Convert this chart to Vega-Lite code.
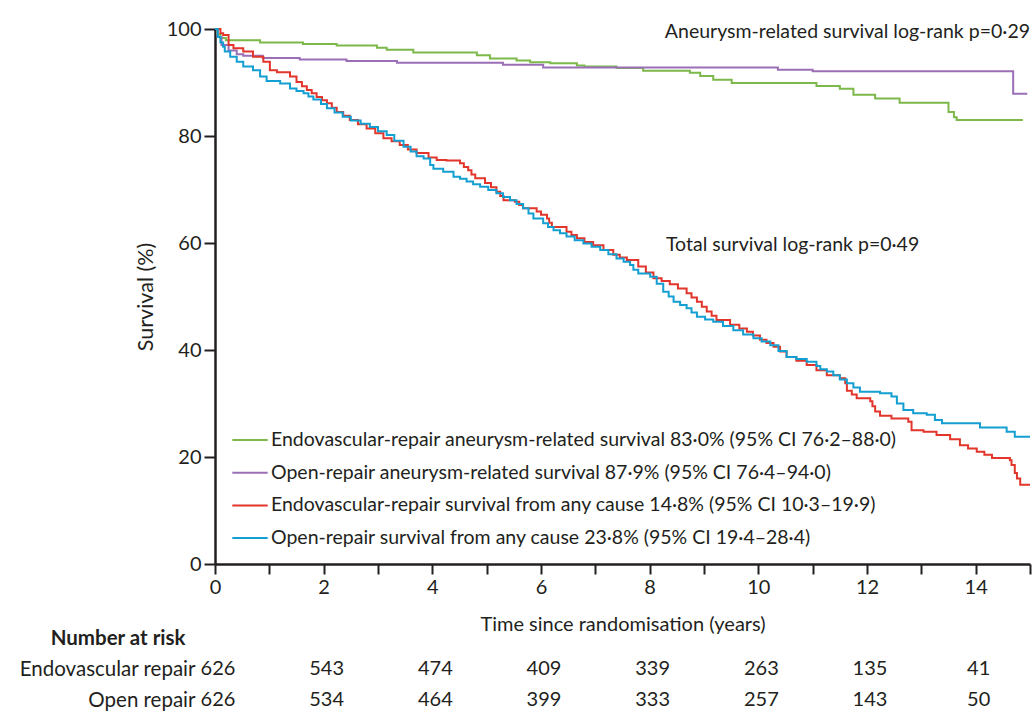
{
  "$schema": "https://vega.github.io/schema/vega-lite/v6.json",
  "background": "white",
  "padding": {"left": 18, "top": 19, "right": 0, "bottom": 0},
  "spacing": 74,
  "bounds": "flush",
  "datasets": {
    "curves": [
      {"c":"Endovascular-repair aneurysm-related survival 83·0% (95% CI 76·2–88·0)","t":0,"s":100},
      {"c":"Endovascular-repair aneurysm-related survival 83·0% (95% CI 76·2–88·0)","t":0.04,"s":99.0},
      {"c":"Endovascular-repair aneurysm-related survival 83·0% (95% CI 76·2–88·0)","t":0.1,"s":98.3},
      {"c":"Endovascular-repair aneurysm-related survival 83·0% (95% CI 76·2–88·0)","t":0.2,"s":97.9},
      {"c":"Endovascular-repair aneurysm-related survival 83·0% (95% CI 76·2–88·0)","t":0.83,"s":97.5},
      {"c":"Endovascular-repair aneurysm-related survival 83·0% (95% CI 76·2–88·0)","t":1.62,"s":97.2},
      {"c":"Endovascular-repair aneurysm-related survival 83·0% (95% CI 76·2–88·0)","t":2.24,"s":96.9},
      {"c":"Endovascular-repair aneurysm-related survival 83·0% (95% CI 76·2–88·0)","t":2.98,"s":96.5},
      {"c":"Endovascular-repair aneurysm-related survival 83·0% (95% CI 76·2–88·0)","t":3.16,"s":96.1},
      {"c":"Endovascular-repair aneurysm-related survival 83·0% (95% CI 76·2–88·0)","t":3.65,"s":95.6},
      {"c":"Endovascular-repair aneurysm-related survival 83·0% (95% CI 76·2–88·0)","t":4.82,"s":95.1},
      {"c":"Endovascular-repair aneurysm-related survival 83·0% (95% CI 76·2–88·0)","t":5.06,"s":94.5},
      {"c":"Endovascular-repair aneurysm-related survival 83·0% (95% CI 76·2–88·0)","t":5.55,"s":94.1},
      {"c":"Endovascular-repair aneurysm-related survival 83·0% (95% CI 76·2–88·0)","t":5.8,"s":93.8},
      {"c":"Endovascular-repair aneurysm-related survival 83·0% (95% CI 76·2–88·0)","t":6.17,"s":93.6},
      {"c":"Endovascular-repair aneurysm-related survival 83·0% (95% CI 76·2–88·0)","t":6.66,"s":93.2},
      {"c":"Endovascular-repair aneurysm-related survival 83·0% (95% CI 76·2–88·0)","t":6.8,"s":93.0},
      {"c":"Endovascular-repair aneurysm-related survival 83·0% (95% CI 76·2–88·0)","t":7.39,"s":92.7},
      {"c":"Endovascular-repair aneurysm-related survival 83·0% (95% CI 76·2–88·0)","t":7.88,"s":92.2},
      {"c":"Endovascular-repair aneurysm-related survival 83·0% (95% CI 76·2–88·0)","t":8.74,"s":91.8},
      {"c":"Endovascular-repair aneurysm-related survival 83·0% (95% CI 76·2–88·0)","t":8.93,"s":91.2},
      {"c":"Endovascular-repair aneurysm-related survival 83·0% (95% CI 76·2–88·0)","t":9.17,"s":90.5},
      {"c":"Endovascular-repair aneurysm-related survival 83·0% (95% CI 76·2–88·0)","t":9.51,"s":89.9},
      {"c":"Endovascular-repair aneurysm-related survival 83·0% (95% CI 76·2–88·0)","t":11.07,"s":89.35},
      {"c":"Endovascular-repair aneurysm-related survival 83·0% (95% CI 76·2–88·0)","t":11.5,"s":88.85},
      {"c":"Endovascular-repair aneurysm-related survival 83·0% (95% CI 76·2–88·0)","t":11.75,"s":87.7},
      {"c":"Endovascular-repair aneurysm-related survival 83·0% (95% CI 76·2–88·0)","t":12.15,"s":87.0},
      {"c":"Endovascular-repair aneurysm-related survival 83·0% (95% CI 76·2–88·0)","t":12.6,"s":86.2},
      {"c":"Endovascular-repair aneurysm-related survival 83·0% (95% CI 76·2–88·0)","t":13.5,"s":84.5},
      {"c":"Endovascular-repair aneurysm-related survival 83·0% (95% CI 76·2–88·0)","t":13.6,"s":83.5},
      {"c":"Endovascular-repair aneurysm-related survival 83·0% (95% CI 76·2–88·0)","t":13.65,"s":83.0},
      {"c":"Endovascular-repair aneurysm-related survival 83·0% (95% CI 76·2–88·0)","t":14.87,"s":83.0},
      {"c":"Open-repair aneurysm-related survival 87·9% (95% CI 76·4–94·0)","t":0,"s":100},
      {"c":"Open-repair aneurysm-related survival 87·9% (95% CI 76·4–94·0)","t":0.05,"s":98.5},
      {"c":"Open-repair aneurysm-related survival 87·9% (95% CI 76·4–94·0)","t":0.12,"s":97.0},
      {"c":"Open-repair aneurysm-related survival 87·9% (95% CI 76·4–94·0)","t":0.25,"s":96.0},
      {"c":"Open-repair aneurysm-related survival 87·9% (95% CI 76·4–94·0)","t":0.4,"s":95.3},
      {"c":"Open-repair aneurysm-related survival 87·9% (95% CI 76·4–94·0)","t":0.52,"s":95.0},
      {"c":"Open-repair aneurysm-related survival 87·9% (95% CI 76·4–94·0)","t":0.88,"s":94.6},
      {"c":"Open-repair aneurysm-related survival 87·9% (95% CI 76·4–94·0)","t":1.56,"s":94.3},
      {"c":"Open-repair aneurysm-related survival 87·9% (95% CI 76·4–94·0)","t":2.42,"s":94.0},
      {"c":"Open-repair aneurysm-related survival 87·9% (95% CI 76·4–94·0)","t":3.35,"s":93.7},
      {"c":"Open-repair aneurysm-related survival 87·9% (95% CI 76·4–94·0)","t":5.3,"s":93.3},
      {"c":"Open-repair aneurysm-related survival 87·9% (95% CI 76·4–94·0)","t":6.04,"s":92.8},
      {"c":"Open-repair aneurysm-related survival 87·9% (95% CI 76·4–94·0)","t":10.36,"s":92.4},
      {"c":"Open-repair aneurysm-related survival 87·9% (95% CI 76·4–94·0)","t":11.0,"s":92.1},
      {"c":"Open-repair aneurysm-related survival 87·9% (95% CI 76·4–94·0)","t":14.69,"s":87.9},
      {"c":"Open-repair aneurysm-related survival 87·9% (95% CI 76·4–94·0)","t":14.95,"s":87.9},
      {"c":"Endovascular-repair survival from any cause 14·8% (95% CI 10·3–19·9)","t":0,"s":100},
      {"c":"Endovascular-repair survival from any cause 14·8% (95% CI 10·3–19·9)","t":0.1,"s":99.2},
      {"c":"Endovascular-repair survival from any cause 14·8% (95% CI 10·3–19·9)","t":0.15,"s":98.9},
      {"c":"Endovascular-repair survival from any cause 14·8% (95% CI 10·3–19·9)","t":0.25,"s":97.0},
      {"c":"Endovascular-repair survival from any cause 14·8% (95% CI 10·3–19·9)","t":0.34,"s":96.4},
      {"c":"Endovascular-repair survival from any cause 14·8% (95% CI 10·3–19·9)","t":0.52,"s":95.8},
      {"c":"Endovascular-repair survival from any cause 14·8% (95% CI 10·3–19·9)","t":0.7,"s":94.8},
      {"c":"Endovascular-repair survival from any cause 14·8% (95% CI 10·3–19·9)","t":0.89,"s":93.9},
      {"c":"Endovascular-repair survival from any cause 14·8% (95% CI 10·3–19·9)","t":1.01,"s":92.3},
      {"c":"Endovascular-repair survival from any cause 14·8% (95% CI 10·3–19·9)","t":1.14,"s":91.9},
      {"c":"Endovascular-repair survival from any cause 14·8% (95% CI 10·3–19·9)","t":1.38,"s":91.1},
      {"c":"Endovascular-repair survival from any cause 14·8% (95% CI 10·3–19·9)","t":1.5,"s":90.1},
      {"c":"Endovascular-repair survival from any cause 14·8% (95% CI 10·3–19·9)","t":1.6,"s":89.3},
      {"c":"Endovascular-repair survival from any cause 14·8% (95% CI 10·3–19·9)","t":1.69,"s":88.6},
      {"c":"Endovascular-repair survival from any cause 14·8% (95% CI 10·3–19·9)","t":1.78,"s":88.0},
      {"c":"Endovascular-repair survival from any cause 14·8% (95% CI 10·3–19·9)","t":1.87,"s":87.3},
      {"c":"Endovascular-repair survival from any cause 14·8% (95% CI 10·3–19·9)","t":1.97,"s":86.7},
      {"c":"Endovascular-repair survival from any cause 14·8% (95% CI 10·3–19·9)","t":2.06,"s":86.1},
      {"c":"Endovascular-repair survival from any cause 14·8% (95% CI 10·3–19·9)","t":2.15,"s":85.3},
      {"c":"Endovascular-repair survival from any cause 14·8% (95% CI 10·3–19·9)","t":2.24,"s":84.5},
      {"c":"Endovascular-repair survival from any cause 14·8% (95% CI 10·3–19·9)","t":2.36,"s":83.8},
      {"c":"Endovascular-repair survival from any cause 14·8% (95% CI 10·3–19·9)","t":2.48,"s":83.0},
      {"c":"Endovascular-repair survival from any cause 14·8% (95% CI 10·3–19·9)","t":2.63,"s":82.2},
      {"c":"Endovascular-repair survival from any cause 14·8% (95% CI 10·3–19·9)","t":2.79,"s":81.4},
      {"c":"Endovascular-repair survival from any cause 14·8% (95% CI 10·3–19·9)","t":2.95,"s":80.5},
      {"c":"Endovascular-repair survival from any cause 14·8% (95% CI 10·3–19·9)","t":3.1,"s":79.6},
      {"c":"Endovascular-repair survival from any cause 14·8% (95% CI 10·3–19·9)","t":3.25,"s":79.0},
      {"c":"Endovascular-repair survival from any cause 14·8% (95% CI 10·3–19·9)","t":3.4,"s":78.3},
      {"c":"Endovascular-repair survival from any cause 14·8% (95% CI 10·3–19·9)","t":3.55,"s":77.5},
      {"c":"Endovascular-repair survival from any cause 14·8% (95% CI 10·3–19·9)","t":3.71,"s":76.8},
      {"c":"Endovascular-repair survival from any cause 14·8% (95% CI 10·3–19·9)","t":3.93,"s":76.0},
      {"c":"Endovascular-repair survival from any cause 14·8% (95% CI 10·3–19·9)","t":4.08,"s":75.5},
      {"c":"Endovascular-repair survival from any cause 14·8% (95% CI 10·3–19·9)","t":4.26,"s":75.4},
      {"c":"Endovascular-repair survival from any cause 14·8% (95% CI 10·3–19·9)","t":4.51,"s":74.9},
      {"c":"Endovascular-repair survival from any cause 14·8% (95% CI 10·3–19·9)","t":4.58,"s":74.2},
      {"c":"Endovascular-repair survival from any cause 14·8% (95% CI 10·3–19·9)","t":4.66,"s":73.6},
      {"c":"Endovascular-repair survival from any cause 14·8% (95% CI 10·3–19·9)","t":4.72,"s":72.8},
      {"c":"Endovascular-repair survival from any cause 14·8% (95% CI 10·3–19·9)","t":4.79,"s":72.1},
      {"c":"Endovascular-repair survival from any cause 14·8% (95% CI 10·3–19·9)","t":4.97,"s":71.2},
      {"c":"Endovascular-repair survival from any cause 14·8% (95% CI 10·3–19·9)","t":5.08,"s":70.4},
      {"c":"Endovascular-repair survival from any cause 14·8% (95% CI 10·3–19·9)","t":5.18,"s":69.6},
      {"c":"Endovascular-repair survival from any cause 14·8% (95% CI 10·3–19·9)","t":5.25,"s":68.8},
      {"c":"Endovascular-repair survival from any cause 14·8% (95% CI 10·3–19·9)","t":5.31,"s":68.0},
      {"c":"Endovascular-repair survival from any cause 14·8% (95% CI 10·3–19·9)","t":5.52,"s":67.7},
      {"c":"Endovascular-repair survival from any cause 14·8% (95% CI 10·3–19·9)","t":5.6,"s":67.1},
      {"c":"Endovascular-repair survival from any cause 14·8% (95% CI 10·3–19·9)","t":5.67,"s":66.5},
      {"c":"Endovascular-repair survival from any cause 14·8% (95% CI 10·3–19·9)","t":5.92,"s":65.9},
      {"c":"Endovascular-repair survival from any cause 14·8% (95% CI 10·3–19·9)","t":6.0,"s":65.3},
      {"c":"Endovascular-repair survival from any cause 14·8% (95% CI 10·3–19·9)","t":6.11,"s":64.6},
      {"c":"Endovascular-repair survival from any cause 14·8% (95% CI 10·3–19·9)","t":6.15,"s":63.8},
      {"c":"Endovascular-repair survival from any cause 14·8% (95% CI 10·3–19·9)","t":6.2,"s":63.0},
      {"c":"Endovascular-repair survival from any cause 14·8% (95% CI 10·3–19·9)","t":6.47,"s":62.1},
      {"c":"Endovascular-repair survival from any cause 14·8% (95% CI 10·3–19·9)","t":6.56,"s":61.5},
      {"c":"Endovascular-repair survival from any cause 14·8% (95% CI 10·3–19·9)","t":6.66,"s":60.9},
      {"c":"Endovascular-repair survival from any cause 14·8% (95% CI 10·3–19·9)","t":6.8,"s":60.2},
      {"c":"Endovascular-repair survival from any cause 14·8% (95% CI 10·3–19·9)","t":6.96,"s":59.6},
      {"c":"Endovascular-repair survival from any cause 14·8% (95% CI 10·3–19·9)","t":7.15,"s":58.7},
      {"c":"Endovascular-repair survival from any cause 14·8% (95% CI 10·3–19·9)","t":7.33,"s":57.8},
      {"c":"Endovascular-repair survival from any cause 14·8% (95% CI 10·3–19·9)","t":7.45,"s":57.3},
      {"c":"Endovascular-repair survival from any cause 14·8% (95% CI 10·3–19·9)","t":7.58,"s":56.8},
      {"c":"Endovascular-repair survival from any cause 14·8% (95% CI 10·3–19·9)","t":7.79,"s":55.6},
      {"c":"Endovascular-repair survival from any cause 14·8% (95% CI 10·3–19·9)","t":7.93,"s":54.5},
      {"c":"Endovascular-repair survival from any cause 14·8% (95% CI 10·3–19·9)","t":8.07,"s":53.4},
      {"c":"Endovascular-repair survival from any cause 14·8% (95% CI 10·3–19·9)","t":8.22,"s":52.9},
      {"c":"Endovascular-repair survival from any cause 14·8% (95% CI 10·3–19·9)","t":8.37,"s":52.3},
      {"c":"Endovascular-repair survival from any cause 14·8% (95% CI 10·3–19·9)","t":8.52,"s":51.5},
      {"c":"Endovascular-repair survival from any cause 14·8% (95% CI 10·3–19·9)","t":8.68,"s":50.6},
      {"c":"Endovascular-repair survival from any cause 14·8% (95% CI 10·3–19·9)","t":8.77,"s":49.8},
      {"c":"Endovascular-repair survival from any cause 14·8% (95% CI 10·3–19·9)","t":8.87,"s":49.0},
      {"c":"Endovascular-repair survival from any cause 14·8% (95% CI 10·3–19·9)","t":8.96,"s":48.1},
      {"c":"Endovascular-repair survival from any cause 14·8% (95% CI 10·3–19·9)","t":9.05,"s":47.2},
      {"c":"Endovascular-repair survival from any cause 14·8% (95% CI 10·3–19·9)","t":9.14,"s":46.4},
      {"c":"Endovascular-repair survival from any cause 14·8% (95% CI 10·3–19·9)","t":9.23,"s":45.6},
      {"c":"Endovascular-repair survival from any cause 14·8% (95% CI 10·3–19·9)","t":9.48,"s":44.7},
      {"c":"Endovascular-repair survival from any cause 14·8% (95% CI 10·3–19·9)","t":9.65,"s":44.0},
      {"c":"Endovascular-repair survival from any cause 14·8% (95% CI 10·3–19·9)","t":9.79,"s":43.4},
      {"c":"Endovascular-repair survival from any cause 14·8% (95% CI 10·3–19·9)","t":9.9,"s":42.7},
      {"c":"Endovascular-repair survival from any cause 14·8% (95% CI 10·3–19·9)","t":10.03,"s":41.9},
      {"c":"Endovascular-repair survival from any cause 14·8% (95% CI 10·3–19·9)","t":10.15,"s":41.3},
      {"c":"Endovascular-repair survival from any cause 14·8% (95% CI 10·3–19·9)","t":10.28,"s":40.6},
      {"c":"Endovascular-repair survival from any cause 14·8% (95% CI 10·3–19·9)","t":10.4,"s":39.7},
      {"c":"Endovascular-repair survival from any cause 14·8% (95% CI 10·3–19·9)","t":10.52,"s":38.7},
      {"c":"Endovascular-repair survival from any cause 14·8% (95% CI 10·3–19·9)","t":10.7,"s":38.0},
      {"c":"Endovascular-repair survival from any cause 14·8% (95% CI 10·3–19·9)","t":10.89,"s":37.2},
      {"c":"Endovascular-repair survival from any cause 14·8% (95% CI 10·3–19·9)","t":11.07,"s":36.2},
      {"c":"Endovascular-repair survival from any cause 14·8% (95% CI 10·3–19·9)","t":11.26,"s":35.3},
      {"c":"Endovascular-repair survival from any cause 14·8% (95% CI 10·3–19·9)","t":11.5,"s":34.7},
      {"c":"Endovascular-repair survival from any cause 14·8% (95% CI 10·3–19·9)","t":11.6,"s":33.8},
      {"c":"Endovascular-repair survival from any cause 14·8% (95% CI 10·3–19·9)","t":11.63,"s":32.4},
      {"c":"Endovascular-repair survival from any cause 14·8% (95% CI 10·3–19·9)","t":11.72,"s":31.7},
      {"c":"Endovascular-repair survival from any cause 14·8% (95% CI 10·3–19·9)","t":11.81,"s":31.0},
      {"c":"Endovascular-repair survival from any cause 14·8% (95% CI 10·3–19·9)","t":12.06,"s":30.4},
      {"c":"Endovascular-repair survival from any cause 14·8% (95% CI 10·3–19·9)","t":12.1,"s":29.5},
      {"c":"Endovascular-repair survival from any cause 14·8% (95% CI 10·3–19·9)","t":12.15,"s":28.5},
      {"c":"Endovascular-repair survival from any cause 14·8% (95% CI 10·3–19·9)","t":12.24,"s":27.7},
      {"c":"Endovascular-repair survival from any cause 14·8% (95% CI 10·3–19·9)","t":12.45,"s":27.2},
      {"c":"Endovascular-repair survival from any cause 14·8% (95% CI 10·3–19·9)","t":12.76,"s":26.6},
      {"c":"Endovascular-repair survival from any cause 14·8% (95% CI 10·3–19·9)","t":12.82,"s":25.0},
      {"c":"Endovascular-repair survival from any cause 14·8% (95% CI 10·3–19·9)","t":13.04,"s":24.7},
      {"c":"Endovascular-repair survival from any cause 14·8% (95% CI 10·3–19·9)","t":13.28,"s":24.1},
      {"c":"Endovascular-repair survival from any cause 14·8% (95% CI 10·3–19·9)","t":13.53,"s":23.3},
      {"c":"Endovascular-repair survival from any cause 14·8% (95% CI 10·3–19·9)","t":13.71,"s":22.2},
      {"c":"Endovascular-repair survival from any cause 14·8% (95% CI 10·3–19·9)","t":13.86,"s":21.6},
      {"c":"Endovascular-repair survival from any cause 14·8% (95% CI 10·3–19·9)","t":14.02,"s":21.0},
      {"c":"Endovascular-repair survival from any cause 14·8% (95% CI 10·3–19·9)","t":14.16,"s":20.4},
      {"c":"Endovascular-repair survival from any cause 14·8% (95% CI 10·3–19·9)","t":14.3,"s":19.8},
      {"c":"Endovascular-repair survival from any cause 14·8% (95% CI 10·3–19·9)","t":14.63,"s":19.4},
      {"c":"Endovascular-repair survival from any cause 14·8% (95% CI 10·3–19·9)","t":14.66,"s":18.5},
      {"c":"Endovascular-repair survival from any cause 14·8% (95% CI 10·3–19·9)","t":14.72,"s":17.0},
      {"c":"Endovascular-repair survival from any cause 14·8% (95% CI 10·3–19·9)","t":14.76,"s":16.0},
      {"c":"Endovascular-repair survival from any cause 14·8% (95% CI 10·3–19·9)","t":14.82,"s":14.8},
      {"c":"Endovascular-repair survival from any cause 14·8% (95% CI 10·3–19·9)","t":15.0,"s":14.8},
      {"c":"Open-repair survival from any cause 23·8% (95% CI 19·4–28·4)","t":0,"s":100},
      {"c":"Open-repair survival from any cause 23·8% (95% CI 19·4–28·4)","t":0.05,"s":98.5},
      {"c":"Open-repair survival from any cause 23·8% (95% CI 19·4–28·4)","t":0.1,"s":97.5},
      {"c":"Open-repair survival from any cause 23·8% (95% CI 19·4–28·4)","t":0.15,"s":96.7},
      {"c":"Open-repair survival from any cause 23·8% (95% CI 19·4–28·4)","t":0.18,"s":95.8},
      {"c":"Open-repair survival from any cause 23·8% (95% CI 19·4–28·4)","t":0.28,"s":94.8},
      {"c":"Open-repair survival from any cause 23·8% (95% CI 19·4–28·4)","t":0.4,"s":93.9},
      {"c":"Open-repair survival from any cause 23·8% (95% CI 19·4–28·4)","t":0.52,"s":93.0},
      {"c":"Open-repair survival from any cause 23·8% (95% CI 19·4–28·4)","t":0.7,"s":92.3},
      {"c":"Open-repair survival from any cause 23·8% (95% CI 19·4–28·4)","t":0.83,"s":91.1},
      {"c":"Open-repair survival from any cause 23·8% (95% CI 19·4–28·4)","t":0.95,"s":90.3},
      {"c":"Open-repair survival from any cause 23·8% (95% CI 19·4–28·4)","t":1.2,"s":89.8},
      {"c":"Open-repair survival from any cause 23·8% (95% CI 19·4–28·4)","t":1.38,"s":88.9},
      {"c":"Open-repair survival from any cause 23·8% (95% CI 19·4–28·4)","t":1.5,"s":88.4},
      {"c":"Open-repair survival from any cause 23·8% (95% CI 19·4–28·4)","t":1.63,"s":88.0},
      {"c":"Open-repair survival from any cause 23·8% (95% CI 19·4–28·4)","t":1.72,"s":87.4},
      {"c":"Open-repair survival from any cause 23·8% (95% CI 19·4–28·4)","t":1.81,"s":86.8},
      {"c":"Open-repair survival from any cause 23·8% (95% CI 19·4–28·4)","t":1.95,"s":86.0},
      {"c":"Open-repair survival from any cause 23·8% (95% CI 19·4–28·4)","t":2.06,"s":85.2},
      {"c":"Open-repair survival from any cause 23·8% (95% CI 19·4–28·4)","t":2.2,"s":84.4},
      {"c":"Open-repair survival from any cause 23·8% (95% CI 19·4–28·4)","t":2.35,"s":83.6},
      {"c":"Open-repair survival from any cause 23·8% (95% CI 19·4–28·4)","t":2.5,"s":82.9},
      {"c":"Open-repair survival from any cause 23·8% (95% CI 19·4–28·4)","t":2.68,"s":82.3},
      {"c":"Open-repair survival from any cause 23·8% (95% CI 19·4–28·4)","t":2.85,"s":81.7},
      {"c":"Open-repair survival from any cause 23·8% (95% CI 19·4–28·4)","t":3.0,"s":80.9},
      {"c":"Open-repair survival from any cause 23·8% (95% CI 19·4–28·4)","t":3.16,"s":80.2},
      {"c":"Open-repair survival from any cause 23·8% (95% CI 19·4–28·4)","t":3.3,"s":79.1},
      {"c":"Open-repair survival from any cause 23·8% (95% CI 19·4–28·4)","t":3.47,"s":78.0},
      {"c":"Open-repair survival from any cause 23·8% (95% CI 19·4–28·4)","t":3.6,"s":77.1},
      {"c":"Open-repair survival from any cause 23·8% (95% CI 19·4–28·4)","t":3.71,"s":76.2},
      {"c":"Open-repair survival from any cause 23·8% (95% CI 19·4–28·4)","t":3.84,"s":75.8},
      {"c":"Open-repair survival from any cause 23·8% (95% CI 19·4–28·4)","t":3.96,"s":74.6},
      {"c":"Open-repair survival from any cause 23·8% (95% CI 19·4–28·4)","t":4.02,"s":73.9},
      {"c":"Open-repair survival from any cause 23·8% (95% CI 19·4–28·4)","t":4.2,"s":73.3},
      {"c":"Open-repair survival from any cause 23·8% (95% CI 19·4–28·4)","t":4.39,"s":72.4},
      {"c":"Open-repair survival from any cause 23·8% (95% CI 19·4–28·4)","t":4.51,"s":72.0},
      {"c":"Open-repair survival from any cause 23·8% (95% CI 19·4–28·4)","t":4.63,"s":71.5},
      {"c":"Open-repair survival from any cause 23·8% (95% CI 19·4–28·4)","t":4.75,"s":71.0},
      {"c":"Open-repair survival from any cause 23·8% (95% CI 19·4–28·4)","t":4.88,"s":70.5},
      {"c":"Open-repair survival from any cause 23·8% (95% CI 19·4–28·4)","t":5.03,"s":69.9},
      {"c":"Open-repair survival from any cause 23·8% (95% CI 19·4–28·4)","t":5.18,"s":69.3},
      {"c":"Open-repair survival from any cause 23·8% (95% CI 19·4–28·4)","t":5.3,"s":68.6},
      {"c":"Open-repair survival from any cause 23·8% (95% CI 19·4–28·4)","t":5.43,"s":68.0},
      {"c":"Open-repair survival from any cause 23·8% (95% CI 19·4–28·4)","t":5.55,"s":67.3},
      {"c":"Open-repair survival from any cause 23·8% (95% CI 19·4–28·4)","t":5.67,"s":66.5},
      {"c":"Open-repair survival from any cause 23·8% (95% CI 19·4–28·4)","t":5.77,"s":65.5},
      {"c":"Open-repair survival from any cause 23·8% (95% CI 19·4–28·4)","t":5.86,"s":64.6},
      {"c":"Open-repair survival from any cause 23·8% (95% CI 19·4–28·4)","t":6.04,"s":63.7},
      {"c":"Open-repair survival from any cause 23·8% (95% CI 19·4–28·4)","t":6.13,"s":63.0},
      {"c":"Open-repair survival from any cause 23·8% (95% CI 19·4–28·4)","t":6.23,"s":62.4},
      {"c":"Open-repair survival from any cause 23·8% (95% CI 19·4–28·4)","t":6.35,"s":61.8},
      {"c":"Open-repair survival from any cause 23·8% (95% CI 19·4–28·4)","t":6.47,"s":61.2},
      {"c":"Open-repair survival from any cause 23·8% (95% CI 19·4–28·4)","t":6.62,"s":60.5},
      {"c":"Open-repair survival from any cause 23·8% (95% CI 19·4–28·4)","t":6.78,"s":59.9},
      {"c":"Open-repair survival from any cause 23·8% (95% CI 19·4–28·4)","t":6.93,"s":59.3},
      {"c":"Open-repair survival from any cause 23·8% (95% CI 19·4–28·4)","t":7.09,"s":58.7},
      {"c":"Open-repair survival from any cause 23·8% (95% CI 19·4–28·4)","t":7.24,"s":57.9},
      {"c":"Open-repair survival from any cause 23·8% (95% CI 19·4–28·4)","t":7.39,"s":57.1},
      {"c":"Open-repair survival from any cause 23·8% (95% CI 19·4–28·4)","t":7.52,"s":56.5},
      {"c":"Open-repair survival from any cause 23·8% (95% CI 19·4–28·4)","t":7.64,"s":55.9},
      {"c":"Open-repair survival from any cause 23·8% (95% CI 19·4–28·4)","t":7.7,"s":55.0},
      {"c":"Open-repair survival from any cause 23·8% (95% CI 19·4–28·4)","t":7.79,"s":54.3},
      {"c":"Open-repair survival from any cause 23·8% (95% CI 19·4–28·4)","t":8.01,"s":53.7},
      {"c":"Open-repair survival from any cause 23·8% (95% CI 19·4–28·4)","t":8.13,"s":52.4},
      {"c":"Open-repair survival from any cause 23·8% (95% CI 19·4–28·4)","t":8.25,"s":50.9},
      {"c":"Open-repair survival from any cause 23·8% (95% CI 19·4–28·4)","t":8.35,"s":50.0},
      {"c":"Open-repair survival from any cause 23·8% (95% CI 19·4–28·4)","t":8.44,"s":49.0},
      {"c":"Open-repair survival from any cause 23·8% (95% CI 19·4–28·4)","t":8.56,"s":48.4},
      {"c":"Open-repair survival from any cause 23·8% (95% CI 19·4–28·4)","t":8.68,"s":47.8},
      {"c":"Open-repair survival from any cause 23·8% (95% CI 19·4–28·4)","t":8.77,"s":47.0},
      {"c":"Open-repair survival from any cause 23·8% (95% CI 19·4–28·4)","t":8.87,"s":46.2},
      {"c":"Open-repair survival from any cause 23·8% (95% CI 19·4–28·4)","t":9.02,"s":45.7},
      {"c":"Open-repair survival from any cause 23·8% (95% CI 19·4–28·4)","t":9.17,"s":45.3},
      {"c":"Open-repair survival from any cause 23·8% (95% CI 19·4–28·4)","t":9.35,"s":44.5},
      {"c":"Open-repair survival from any cause 23·8% (95% CI 19·4–28·4)","t":9.54,"s":43.7},
      {"c":"Open-repair survival from any cause 23·8% (95% CI 19·4–28·4)","t":9.72,"s":42.9},
      {"c":"Open-repair survival from any cause 23·8% (95% CI 19·4–28·4)","t":9.91,"s":42.2},
      {"c":"Open-repair survival from any cause 23·8% (95% CI 19·4–28·4)","t":10.06,"s":41.6},
      {"c":"Open-repair survival from any cause 23·8% (95% CI 19·4–28·4)","t":10.22,"s":40.9},
      {"c":"Open-repair survival from any cause 23·8% (95% CI 19·4–28·4)","t":10.37,"s":39.8},
      {"c":"Open-repair survival from any cause 23·8% (95% CI 19·4–28·4)","t":10.52,"s":38.7},
      {"c":"Open-repair survival from any cause 23·8% (95% CI 19·4–28·4)","t":10.7,"s":38.3},
      {"c":"Open-repair survival from any cause 23·8% (95% CI 19·4–28·4)","t":10.89,"s":37.8},
      {"c":"Open-repair survival from any cause 23·8% (95% CI 19·4–28·4)","t":11.07,"s":37.0},
      {"c":"Open-repair survival from any cause 23·8% (95% CI 19·4–28·4)","t":11.14,"s":36.4},
      {"c":"Open-repair survival from any cause 23·8% (95% CI 19·4–28·4)","t":11.26,"s":36.0},
      {"c":"Open-repair survival from any cause 23·8% (95% CI 19·4–28·4)","t":11.38,"s":35.3},
      {"c":"Open-repair survival from any cause 23·8% (95% CI 19·4–28·4)","t":11.5,"s":34.5},
      {"c":"Open-repair survival from any cause 23·8% (95% CI 19·4–28·4)","t":11.63,"s":33.8},
      {"c":"Open-repair survival from any cause 23·8% (95% CI 19·4–28·4)","t":11.75,"s":33.0},
      {"c":"Open-repair survival from any cause 23·8% (95% CI 19·4–28·4)","t":11.87,"s":32.2},
      {"c":"Open-repair survival from any cause 23·8% (95% CI 19·4–28·4)","t":12.24,"s":31.9},
      {"c":"Open-repair survival from any cause 23·8% (95% CI 19·4–28·4)","t":12.45,"s":31.3},
      {"c":"Open-repair survival from any cause 23·8% (95% CI 19·4–28·4)","t":12.55,"s":30.0},
      {"c":"Open-repair survival from any cause 23·8% (95% CI 19·4–28·4)","t":12.67,"s":28.8},
      {"c":"Open-repair survival from any cause 23·8% (95% CI 19·4–28·4)","t":12.85,"s":28.2},
      {"c":"Open-repair survival from any cause 23·8% (95% CI 19·4–28·4)","t":13.1,"s":27.9},
      {"c":"Open-repair survival from any cause 23·8% (95% CI 19·4–28·4)","t":13.25,"s":26.9},
      {"c":"Open-repair survival from any cause 23·8% (95% CI 19·4–28·4)","t":13.38,"s":26.3},
      {"c":"Open-repair survival from any cause 23·8% (95% CI 19·4–28·4)","t":14.08,"s":25.5},
      {"c":"Open-repair survival from any cause 23·8% (95% CI 19·4–28·4)","t":14.57,"s":24.7},
      {"c":"Open-repair survival from any cause 23·8% (95% CI 19·4–28·4)","t":14.72,"s":23.8},
      {"c":"Open-repair survival from any cause 23·8% (95% CI 19·4–28·4)","t":15.0,"s":23.8}
    ],
    "risk": [
      {"arm":"Endovascular repair","t":0,"n":626},
      {"arm":"Endovascular repair","t":2,"n":543},
      {"arm":"Endovascular repair","t":4,"n":474},
      {"arm":"Endovascular repair","t":6,"n":409},
      {"arm":"Endovascular repair","t":8,"n":339},
      {"arm":"Endovascular repair","t":10,"n":263},
      {"arm":"Endovascular repair","t":12,"n":135},
      {"arm":"Endovascular repair","t":14,"n":41},
      {"arm":"Open repair","t":0,"n":626},
      {"arm":"Open repair","t":2,"n":534},
      {"arm":"Open repair","t":4,"n":464},
      {"arm":"Open repair","t":6,"n":399},
      {"arm":"Open repair","t":8,"n":333},
      {"arm":"Open repair","t":10,"n":257},
      {"arm":"Open repair","t":12,"n":143},
      {"arm":"Open repair","t":14,"n":50}
    ]
  },
  "vconcat": [
    {
      "width": 815,
      "height": 535,
      "layer": [
        {
          "data": {"name": "curves"},
          "mark": {"type": "line", "interpolate": "step-after", "clip": false},
          "encoding": {
            "x": {"field": "t", "type": "quantitative",
                  "scale": {"domain": [0, 15], "nice": false, "zero": false},
                  "axis": {"values": [0,1,2,3,4,5,6,7,8,9,10,11,12,13,14,15],
                           "labelExpr": "datum.value % 2 == 0 ? datum.label : ''",
                           "title": "Time since randomisation (years)",
                           "tickSize": 10, "labelPadding": 3, "titlePadding": 17,
                           "labelFlush": false, "labelOverlap": false}},
            "y": {"field": "s", "type": "quantitative",
                  "scale": {"domain": [0, 100], "nice": false},
                  "axis": {"values": [0,20,40,60,80,100], "title": "Survival (%)", "titleFontSize": 21.5,
                           "tickSize": 11, "labelPadding": 3, "titlePadding": 9}},
            "color": {"field": "c", "type": "nominal",
                      "scale": {"domain": [
                        "Endovascular-repair aneurysm-related survival 83·0% (95% CI 76·2–88·0)",
                        "Open-repair aneurysm-related survival 87·9% (95% CI 76·4–94·0)",
                        "Endovascular-repair survival from any cause 14·8% (95% CI 10·3–19·9)",
                        "Open-repair survival from any cause 23·8% (95% CI 19·4–28·4)"],
                        "range": ["#7cb84a", "#9b6fb7", "#e2352b", "#149fd2"]},
                      "legend": {"title": null, "orient": "bottom-left", "offset": 16, "padding": 0,
                                 "symbolType": "stroke", "symbolSize": 1250, "symbolStrokeWidth": 2.5,
                                 "labelFontSize": 19.5, "labelOffset": 2, "rowPadding": 3.7,
                                 "labelLimit": 800, "labelColor": "#231f20"}},
            "strokeWidth": {"field": "c", "type": "nominal",
                            "scale": {"domain": [
                              "Endovascular-repair aneurysm-related survival 83·0% (95% CI 76·2–88·0)",
                              "Open-repair aneurysm-related survival 87·9% (95% CI 76·4–94·0)",
                              "Endovascular-repair survival from any cause 14·8% (95% CI 10·3–19·9)",
                              "Open-repair survival from any cause 23·8% (95% CI 19·4–28·4)"],
                              "range": [2, 2, 2.8, 2.8]},
                            "legend": null}
          }
        },
        {
          "data": {"values": [{"t": 15, "s": 99.4, "label": "Aneurysm-related survival log-rank p=0·29"}]},
          "mark": {"type": "text", "align": "right", "baseline": "middle", "fontSize": 19.5, "color": "#231f20"},
          "encoding": {"x": {"field": "t", "type": "quantitative"}, "y": {"field": "s", "type": "quantitative"}, "text": {"field": "label"}}
        },
        {
          "data": {"values": [{"t": 8.3, "s": 59.6, "label": "Total survival log-rank p=0·49"}]},
          "mark": {"type": "text", "align": "left", "baseline": "middle", "fontSize": 19.5, "color": "#231f20"},
          "encoding": {"x": {"field": "t", "type": "quantitative"}, "y": {"field": "s", "type": "quantitative"}, "text": {"field": "label"}}
        }
      ]
    },
    {
      "width": 815,
      "height": {"step": 31},
      "data": {"name": "risk"},
      "mark": {"type": "text", "fontSize": 20, "align": "center", "baseline": "middle", "dx": 3, "color": "#231f20"},
      "encoding": {
        "x": {"field": "t", "type": "quantitative", "scale": {"domain": [0, 15], "nice": false}, "axis": null},
        "y": {"field": "arm", "type": "nominal",
              "scale": {"domain": ["Number at risk", "Endovascular repair", "Open repair"], "padding": 0},
              "axis": {"title": null, "domain": false, "ticks": false, "labelFontSize": 20.5,
                       "labelPadding": {"condition": {"test": "datum.value === 'Number at risk'", "value": 30}, "value": 20},
                       "labelFontWeight": {"condition": {"test": "datum.value === 'Number at risk'", "value": "bold"}, "value": "normal"},
                       "labelLimit": 400}},
        "text": {"field": "n", "type": "quantitative"}
      }
    }
  ],
  "resolve": {"legend": {"color": "independent", "strokeWidth": "independent"}},
  "config": {
    "font": "Lato",
    "view": {"stroke": null},
    "axis": {"grid": false, "domainColor": "#231f20", "tickColor": "#231f20", "labelColor": "#231f20",
             "titleColor": "#231f20", "domainWidth": 2.5, "tickWidth": 2, "labelFontSize": 20,
             "titleFontSize": 20, "titleFontWeight": "normal", "labelFont": "Lato", "titleFont": "Lato"},
    "legend": {"labelFont": "Lato"},
    "text": {"font": "Lato"}
  }
}
